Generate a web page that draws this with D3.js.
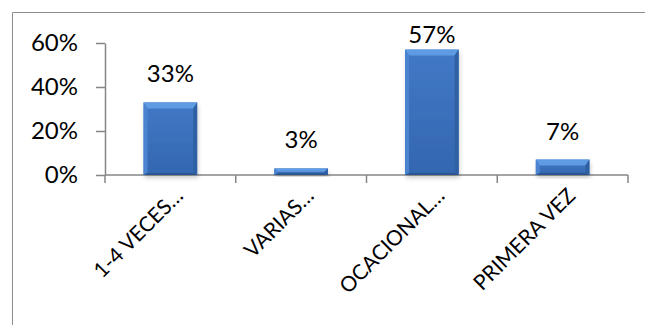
<!DOCTYPE html>
<html>
<head>
<meta charset="utf-8">
<script src="https://cdn.jsdelivr.net/npm/d3@7"></script>
<style>
  body { margin: 0; background: #fff; }
  svg { display: block; font-family: Lato, "Open Sans", sans-serif; }
</style>
</head>
<body>
<svg width="645" height="325"></svg>
<script>
// data
const categories = ["1-4 VECES…", "VARIAS…", "OCACIONAL…", "PRIMERA VEZ"];
const values = [0.33, 0.03, 0.57, 0.07];
const yTicks = [0, 0.2, 0.4, 0.6];

const margin = {top: 43, left: 105, right: 17, bottom: 150};
const W = 645, H = 325;

const svg = d3.select('svg');

// chart border (left + top visible only)
svg.append('path')
    .attr('d', `M12.5,${H} V12.5 H${W}`)
    .attr('fill', 'none')
    .attr('stroke', '#8c8c8c')
    .attr('stroke-width', 1);

const x = d3.scaleBand()
    .domain(categories)
    .range([margin.left, W - margin.right])
    .padding(0);

const y = d3.scaleLinear()
    .domain([0, 0.6])
    .range([H - margin.bottom, margin.top]);

const defs = svg.append('defs');
const face = defs.append('linearGradient')
    .attr('id', 'face').attr('x1', 0).attr('x2', 0).attr('y1', 0).attr('y2', 1);
face.append('stop').attr('offset', '0%').attr('stop-color', '#4279c6');
face.append('stop').attr('offset', '100%').attr('stop-color', '#3366b0');

const shadow = defs.append('filter').attr('id', 'shadow')
    .attr('x', '-20%').attr('y', '-20%').attr('width', '140%').attr('height', '140%');
shadow.append('feDropShadow')
    .attr('dx', 1).attr('dy', 3).attr('stdDeviation', 2)
    .attr('flood-color', '#000').attr('flood-opacity', 0.2);

// y axis
const yAxis = d3.axisLeft(y)
    .tickValues(yTicks)
    .tickFormat(d3.format('.0%'))
    .tickSizeOuter(0)
    .tickSizeInner(9)
    .tickPadding(18);

const gy = svg.append('g')
    .attr('transform', `translate(${margin.left},0)`)
    .call(yAxis);
gy.select('.domain').attr('stroke', '#868686').attr('stroke-width', 1.5);
gy.selectAll('.tick line').attr('stroke', '#868686').attr('stroke-width', 1.5);
gy.selectAll('.tick text')
    .attr('font-size', 24)
    .attr('font-family', 'Lato, sans-serif')
    .attr('fill', '#000');

// x axis line + boundary ticks
const gx = svg.append('g')
    .attr('transform', `translate(0,${y(0)})`);
gx.append('line')
    .attr('x1', x.range()[0]).attr('x2', x.range()[1])
    .attr('stroke', '#868686').attr('stroke-width', 1.5);
const bounds = categories.map(c => x(c)).concat([x.range()[1]]);
gx.selectAll('line.tk')
    .data(bounds)
    .join('line')
    .attr('class', 'tk')
    .attr('x1', d => d).attr('x2', d => d)
    .attr('y1', 0).attr('y2', 8)
    .attr('stroke', '#868686').attr('stroke-width', 1.5);

// category labels
gx.selectAll('text')
    .data(categories)
    .join('text')
    .attr('transform', d => `translate(${x(d) + x.bandwidth() / 2 + 14},22) rotate(-45)`)
    .attr('text-anchor', 'end')
    .attr('font-size', 21)
    .attr('fill', '#000')
    .text(d => d);

// bars with bevel
const bw = x.bandwidth() * 0.41;
const bev = 6, side = 4;
const bars = svg.append('g').selectAll('g')
    .data(values.map((v, i) => ({v, c: categories[i]})))
    .join('g');

bars.each(function(d) {
    const g = d3.select(this);
    const x0 = x(d.c) + (x.bandwidth() - bw) / 2;
    const x1 = x0 + bw;
    const y0 = y(d.v), y1 = y(0);
    const h = y1 - y0;
    const b = Math.min(bev, h / 2), s = Math.min(side, h / 2);
    g.append('rect')
        .attr('x', x0).attr('y', y0).attr('width', bw).attr('height', h)
        .attr('fill', 'url(#face)')
        .attr('filter', 'url(#shadow)');
    // top bevel
    g.append('path')
        .attr('d', `M${x0},${y0} H${x1} L${x1 - s},${y0 + b} H${x0 + s} Z`)
        .attr('fill', '#5f9be2');
    // left bevel
    g.append('path')
        .attr('d', `M${x0},${y0} L${x0 + s},${y0 + b} V${y1 - s / 2} L${x0},${y1} Z`)
        .attr('fill', '#4a84d0');
    // right bevel
    g.append('path')
        .attr('d', `M${x1},${y0} L${x1 - s},${y0 + b} V${y1 - s / 2} L${x1},${y1} Z`)
        .attr('fill', '#2f60a3');
    // bottom bevel
    g.append('path')
        .attr('d', `M${x0},${y1} L${x0 + s},${y1 - s / 2} H${x1 - s} L${x1},${y1} Z`)
        .attr('fill', '#2a568f');
});

// value labels
svg.append('g').selectAll('text')
    .data(values.map((v, i) => ({v, c: categories[i]})))
    .join('text')
    .attr('x', d => x(d.c) + x.bandwidth() / 2)
    .attr('y', d => Math.max(y(d.v) - 20, y(0.6)))
    .attr('text-anchor', 'middle')
    .attr('font-size', 24)
    .attr('fill', '#000')
    .text(d => d3.format('.0%')(d.v));
</script>
</body>
</html>
